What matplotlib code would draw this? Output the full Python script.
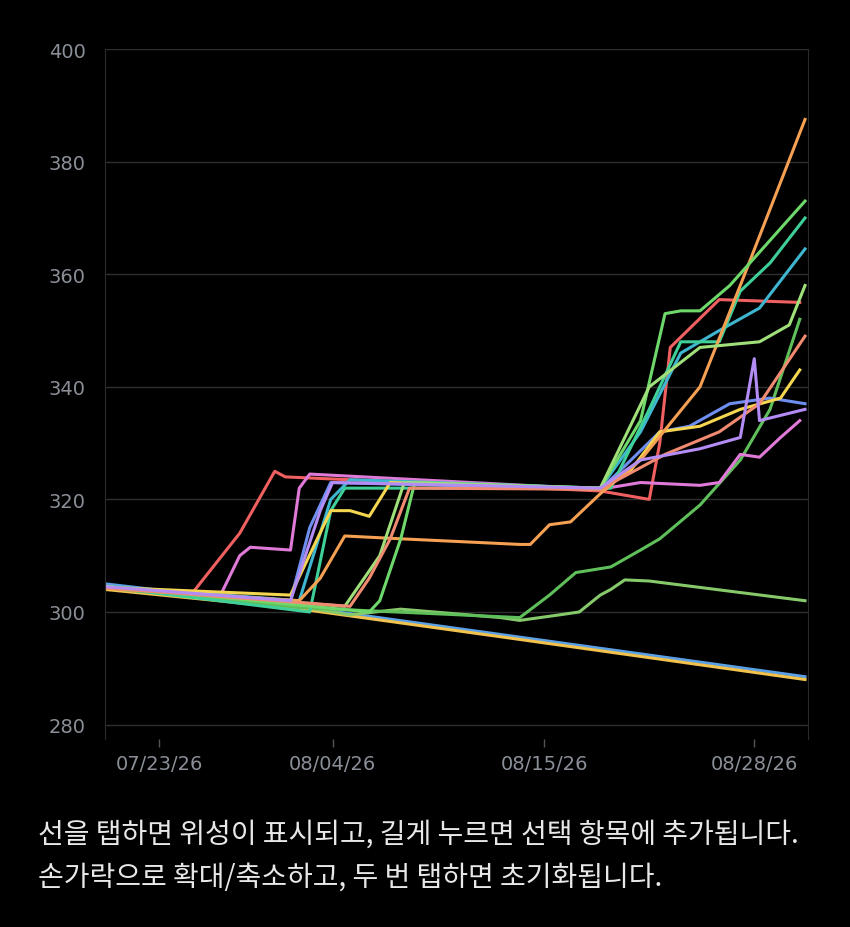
import matplotlib
matplotlib.use("Agg")
import matplotlib.pyplot as plt

tick_pos = [3.1, 13.0, 25.1, 37.1]
tick_labels = ["07/23/26", "08/04/26", "08/15/26", "08/28/26"]
y_ticks = [280, 300, 320, 340, 360, 380, 400]

series = {
 "blue_low":  ("#5aa0e6", [0,11,22.6,40], [305,301,296,288.5]),
 "yellow_low":("#f2c14e", [0,11,22.6,40], [304,300.6,295.6,288]),
 "green_flat":("#86c96a", [0,11,14,16.9,22.6,23.7,26,27.1,28.3,28.9,29.7,31.1,40],
               [304.5,301,299.5,300.5,299,298.5,299.5,300,303,304,305.7,305.5,302]),
 "green_late":("#5fbf5a", [0,11,23.7,25.4,26.9,28.9,30.6,31.7,34,36.3,38,39.7],
               [304.3,300.8,299,303,307,308,311,313,319,327,336,352]),
 "red":       ("#f06060", [0,4.9,7.7,9.7,10.3,28.3,31.1,31.7,32.3,35.1,39.7],
               [304.6,303,314,325,324,321.5,320,330,347,355.5,355]),
 "pink":      ("#e07ad8", [0,6.6,7.7,8.3,10.6,11.1,11.7,28.3,30.6,34,35.1,36.3,37.4,38.6,39.7],
               [304.5,303,310,311.5,311,322,324.5,321.8,323,322.5,323,328,327.5,331,334]),
 "blue":      ("#6f8ff0", [0,10.6,11.7,12.9,28.3,29.4,31.7,33.4,35.7,38,40],
               [304.6,302,315,323,321.8,325,332,333,337,338,337]),
 "cyan":      ("#3fb6d0", [0,11.1,12.9,14,28.3,30.6,32.9,35.1,37.4,40],
               [304.6,302,320,323.5,322,332,346,350,354,364.5]),
 "teal":      ("#3fcf98", [0,11.7,12.9,13.7,28.9,31.1,32.9,35.1,36.3,38,40],
               [304.5,300,318,322,322,336,348,348,357,362,370]),
 "yellow":    ("#f5d650", [0,10.6,12.9,14,15.1,16.3,28.3,30,31.7,34,36.3,38.6,39.7],
               [304.4,303,318,318,317,323,321.8,325,332,333,336,338,343]),
 "orange":    ("#f5a052", [0,11.1,12.3,13.7,16.9,23.7,24.3,25.4,26.6,28.3,30.6,34,36.3,40],
               [304.2,302,306,313.5,313,312,312,315.5,316,321,327,340,358,387.5]),
 "green_jump":("#6ed86a", [0,15.1,15.7,16.9,17.7,28.3,30.6,32,32.9,34,35.7,40],
               [304.6,300,302,313,323,322,334,353,353.5,353.5,358,373]),
 "lgreen":    ("#9fe07a", [0,13.7,15.7,17.1,28.3,31.1,34,37.4,39.1,40],
               [304.5,301,310,323,322,340,347,348,351,358]),
 "salmon":    ("#f08a70", [0,14,15.1,16.3,17.4,28.3,32,35.1,37.4,40],
               [304.3,301,306,313,322,321.8,328,332,337,349]),
 "violet":    ("#b38cf5", [0,10.6,12.3,13,28.3,30.6,34,36.3,37.1,37.4,40],
               [304.5,302,318,323,322,327,329,331,345,334,336]),
}

fig = plt.figure(figsize=(8.5, 9.28), dpi=100, facecolor="black")
ax = fig.add_axes([105/850, 0.203, 703/850, 0.743], facecolor="black")
for name, (c, xs, ys) in series.items():
    ax.plot(xs, ys, color=c, lw=2.2, solid_joinstyle="round")

ax.set_xlim(0, 40.17)
ax.set_ylim(277.5, 400)
ax.set_yticks(y_ticks)
ax.set_xticks(tick_pos)
ax.set_xticklabels(tick_labels)
ax.grid(True, axis="y", color="#2e2e2e", lw=1)
for k, s in ax.spines.items():
    s.set_visible(k in ("left", "right"))
    s.set_color("#2a2a2a")
ax.tick_params(colors="#8a8f98", labelsize=14, length=6, width=1)
ax.tick_params(axis="y", length=0, pad=14)
ax.tick_params(axis="x", color="#555555", pad=5)

fam = ['Noto Sans CJK KR', 'DejaVu Sans']
fig.text(0.045, 1-835/928, "선을 탭하면 위성이 표시되고, 길게 누르면 선택 항목에 추가됩니다.",
         color="#e8e8e8", fontsize=20.2, va="center", family=fam)
fig.text(0.045, 1-878/928, "손가락으로 확대/축소하고, 두 번 탭하면 초기화됩니다.",
         color="#e8e8e8", fontsize=20.2, va="center", family=fam)

fig.savefig("out.png", dpi=100, facecolor="black")
